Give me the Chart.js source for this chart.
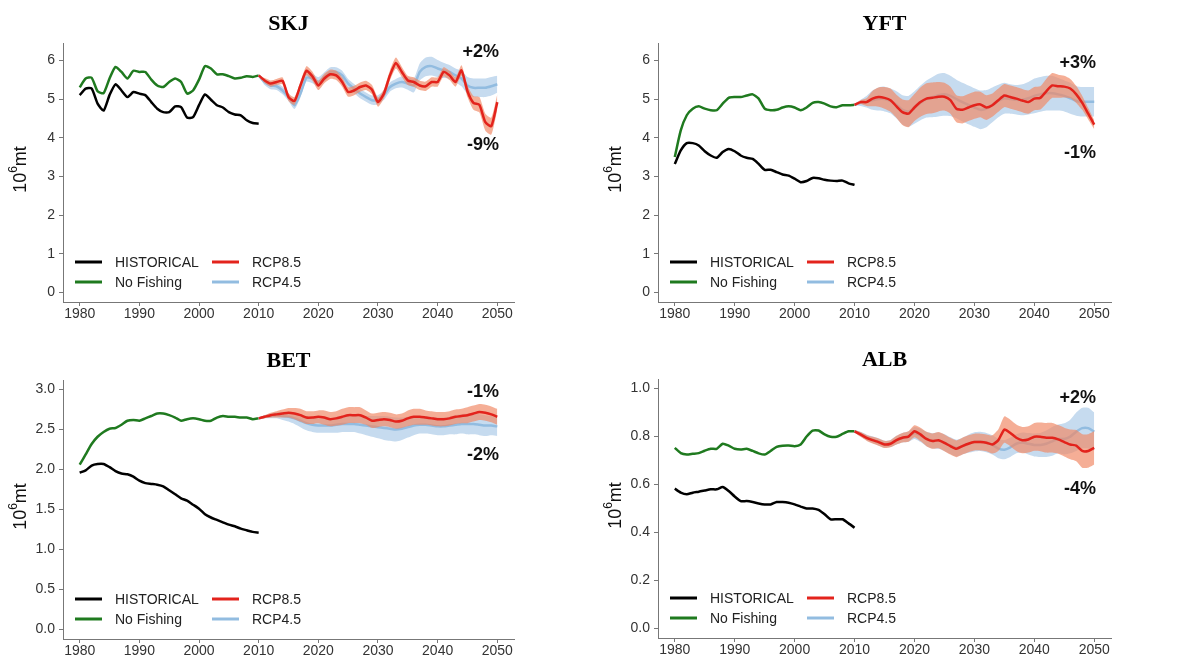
<!DOCTYPE html>
<html lang="en">
<head>
<meta charset="UTF-8">
<title>Tuna biomass: historical, no fishing and RCP projections</title>
<script src="https://cdn.jsdelivr.net/npm/chart.js"></script>
<style>
  body { margin: 0; background: #fff; width: 1178px; height: 656px; overflow: hidden; }
  .painel { position: absolute; }
</style>
</head>
<body>
<canvas class="painel" id="cSKJ" width="589" height="325" style="left:0;top:0"></canvas>
<canvas class="painel" id="cYFT" width="589" height="325" style="left:589px;top:0"></canvas>
<canvas class="painel" id="cBET" width="589" height="331" style="left:0;top:325px"></canvas>
<canvas class="painel" id="cALB" width="589" height="331" style="left:589px;top:325px"></canvas>

<script>
// ---- dados (10^6 mt) ----
// historico e sem pesca: 1980-2010, projecoes: 2010-2050
const anosHist = Array.from({ length: 31 }, (_, i) => 1980 + i);
const anosProj = Array.from({ length: 41 }, (_, i) => 2010 + i);
const xTicks = [1980, 1990, 2000, 2010, 2020, 2030, 2040, 2050];

// SKJ
const skjHist = [5.10,5.27,5.27,4.88,4.70,5.10,5.38,5.22,5.05,5.18, 5.14,5.10,4.92,4.75,4.66,4.66,4.81,4.79,4.52,4.53, 4.84,5.12,4.98,4.84,4.78,4.66,4.60,4.58,4.45,4.38, 4.36];
const skjNoFish = [5.30,5.53,5.55,5.20,5.15,5.53,5.83,5.70,5.53,5.73, 5.70,5.70,5.50,5.35,5.31,5.44,5.53,5.44,5.14,5.22, 5.50,5.85,5.79,5.64,5.64,5.59,5.53,5.55,5.59,5.57, 5.61];
const skjRcp85 = [5.61,5.48,5.40,5.44,5.47,5.05,4.95,5.35,5.73,5.59, 5.35,5.53,5.64,5.61,5.44,5.18,5.22,5.31,5.35,5.24, 4.92,5.14,5.61,5.93,5.70,5.48,5.44,5.35,5.33,5.44, 5.44,5.70,5.61,5.44,5.74,5.20,4.90,4.85,4.40,4.30, 4.92];
const skjRcp45 = [5.61,5.44,5.35,5.33,5.22,5.05,4.84,5.14,5.55,5.53, 5.44,5.57,5.70,5.70,5.61,5.40,5.27,5.14,5.05,4.97, 4.98,5.10,5.31,5.40,5.44,5.40,5.35,5.70,5.83,5.85, 5.79,5.74,5.70,5.61,5.53,5.35,5.29,5.29,5.29,5.33, 5.38];
const skjSpread85 = [0.02,0.06,0.08,0.08,0.09,0.10,0.10,0.10,0.12,0.12, 0.12,0.12,0.12,0.12,0.12,0.12,0.12,0.12,0.12,0.12, 0.12,0.12,0.13,0.14,0.13,0.12,0.12,0.12,0.12,0.12, 0.12,0.12,0.12,0.12,0.13,0.15,0.18,0.20,0.22,0.22, 0.20];
const skjSpread45 = [0.02,0.08,0.10,0.10,0.10,0.10,0.10,0.10,0.10,0.12, 0.12,0.12,0.12,0.12,0.12,0.12,0.12,0.12,0.12,0.12, 0.12,0.12,0.12,0.12,0.14,0.16,0.18,0.22,0.24,0.24, 0.22,0.20,0.18,0.18,0.20,0.22,0.24,0.24,0.24,0.24, 0.22];

// YFT
const yftHist = [3.32,3.67,3.86,3.86,3.80,3.65,3.54,3.48,3.63,3.71, 3.65,3.54,3.48,3.45,3.32,3.17,3.17,3.11,3.05,3.02, 2.94,2.85,2.88,2.96,2.95,2.91,2.89,2.88,2.89,2.82, 2.78];
const yftNoFish = [3.50,4.19,4.58,4.75,4.81,4.75,4.71,4.71,4.88,5.03, 5.05,5.05,5.09,5.12,5.01,4.75,4.71,4.72,4.78,4.81, 4.78,4.71,4.78,4.90,4.92,4.88,4.81,4.79,4.84,4.84, 4.85];
const yftRcp85 = [4.85,4.92,4.92,5.01,5.05,5.03,4.97,4.81,4.66,4.62, 4.78,4.92,5.01,5.03,5.06,5.06,4.97,4.75,4.72,4.78, 4.84,4.86,4.78,4.84,4.97,5.09,5.05,5.01,4.96,4.92, 5.01,5.03,5.20,5.35,5.33,5.32,5.27,5.12,4.90,4.62, 4.34];
const yftRcp45 = [4.85,4.90,4.93,4.97,5.00,5.00,4.95,4.85,4.72,4.68, 4.78,4.90,5.00,5.05,5.10,5.12,5.08,5.00,4.92,4.85, 4.78,4.72,4.75,4.85,4.95,5.02,5.00,4.98,4.98,5.02, 5.08,5.12,5.15,5.15,5.12,5.08,5.02,4.95,4.93,4.93, 4.93];
const yftSpread85 = [0.02,0.05,0.10,0.20,0.25,0.28,0.30,0.30,0.33,0.35, 0.35,0.38,0.40,0.40,0.38,0.36,0.35,0.35,0.35,0.35, 0.35,0.33,0.32,0.30,0.30,0.30,0.30,0.30,0.30,0.30, 0.30,0.30,0.32,0.32,0.30,0.28,0.25,0.22,0.18,0.15, 0.12];
const yftSpread45 = [0.02,0.08,0.15,0.25,0.30,0.32,0.32,0.35,0.38,0.40, 0.42,0.45,0.48,0.52,0.55,0.55,0.52,0.50,0.50,0.50, 0.50,0.50,0.48,0.45,0.42,0.40,0.38,0.38,0.40,0.42, 0.45,0.45,0.45,0.45,0.42,0.40,0.40,0.38,0.38,0.38, 0.38];

// BET
const betHist = [1.96,1.99,2.05,2.07,2.07,2.03,1.98,1.95,1.94,1.91, 1.86,1.83,1.82,1.81,1.79,1.74,1.69,1.64,1.61,1.56, 1.51,1.44,1.40,1.37,1.34,1.31,1.29,1.26,1.24,1.22, 1.21];
const betNoFish = [2.06,2.19,2.32,2.41,2.47,2.51,2.52,2.56,2.61,2.62, 2.61,2.64,2.67,2.70,2.70,2.68,2.65,2.61,2.63,2.64, 2.63,2.61,2.61,2.65,2.67,2.66,2.66,2.65,2.65,2.63, 2.64];
const betRcp85 = [2.64,2.66,2.68,2.69,2.70,2.71,2.70,2.68,2.65,2.65, 2.66,2.65,2.63,2.64,2.66,2.68,2.68,2.68,2.65,2.61, 2.62,2.63,2.62,2.60,2.61,2.64,2.66,2.66,2.65,2.64, 2.63,2.63,2.64,2.66,2.67,2.68,2.70,2.72,2.71,2.69, 2.66];
const betRcp45 = [2.64,2.66,2.67,2.68,2.67,2.66,2.64,2.61,2.58,2.56, 2.55,2.55,2.55,2.56,2.57,2.57,2.57,2.56,2.55,2.54, 2.53,2.52,2.51,2.50,2.51,2.53,2.55,2.56,2.56,2.55, 2.54,2.54,2.55,2.56,2.57,2.57,2.57,2.56,2.55,2.55, 2.54];
const betSpread85 = [0.01,0.02,0.03,0.04,0.05,0.06,0.07,0.08,0.08,0.08, 0.08,0.09,0.09,0.09,0.10,0.10,0.10,0.10,0.09,0.09, 0.09,0.09,0.09,0.09,0.09,0.10,0.10,0.10,0.09,0.09, 0.09,0.09,0.09,0.09,0.09,0.10,0.10,0.10,0.10,0.10, 0.10];
const betSpread45 = [0.01,0.02,0.03,0.04,0.05,0.06,0.07,0.08,0.09,0.09, 0.09,0.09,0.09,0.10,0.10,0.10,0.10,0.11,0.12,0.13, 0.14,0.15,0.15,0.15,0.14,0.13,0.12,0.11,0.11,0.11, 0.11,0.11,0.11,0.12,0.12,0.13,0.13,0.13,0.13,0.12, 0.12];

// ALB
const albHist = [0.583,0.566,0.559,0.566,0.570,0.575,0.580,0.580,0.590,0.573, 0.550,0.531,0.531,0.527,0.521,0.517,0.517,0.527,0.527,0.524, 0.517,0.508,0.500,0.500,0.494,0.476,0.455,0.455,0.455,0.438, 0.420];
const albNoFish = [0.753,0.731,0.725,0.728,0.731,0.741,0.749,0.749,0.770,0.762, 0.749,0.746,0.749,0.740,0.730,0.725,0.740,0.757,0.762,0.763, 0.760,0.767,0.800,0.825,0.825,0.809,0.799,0.799,0.811,0.822, 0.822];
const albRcp85 = [0.822,0.809,0.795,0.785,0.777,0.767,0.770,0.785,0.795,0.800, 0.822,0.809,0.790,0.781,0.785,0.774,0.760,0.749,0.760,0.770, 0.777,0.777,0.774,0.767,0.785,0.829,0.815,0.795,0.785,0.788, 0.799,0.799,0.795,0.795,0.788,0.777,0.767,0.762,0.740,0.740, 0.753];
const albRcp45 = [0.822,0.810,0.797,0.787,0.778,0.768,0.771,0.785,0.795,0.800, 0.815,0.805,0.790,0.782,0.783,0.775,0.762,0.752,0.760,0.770, 0.778,0.780,0.775,0.765,0.750,0.745,0.755,0.770,0.775,0.770, 0.765,0.765,0.770,0.780,0.790,0.790,0.800,0.820,0.835,0.835, 0.820];
const albSpread85 = [0.005,0.010,0.012,0.014,0.015,0.015,0.015,0.018,0.020,0.022, 0.025,0.028,0.030,0.032,0.034,0.035,0.035,0.035,0.035,0.035, 0.035,0.035,0.035,0.038,0.045,0.055,0.055,0.055,0.055,0.055, 0.058,0.060,0.062,0.062,0.060,0.060,0.062,0.065,0.070,0.070, 0.070];
const albSpread45 = [0.005,0.010,0.012,0.014,0.015,0.015,0.015,0.018,0.020,0.022, 0.025,0.028,0.030,0.032,0.034,0.035,0.035,0.035,0.035,0.038, 0.040,0.040,0.040,0.040,0.040,0.040,0.040,0.040,0.042,0.045, 0.048,0.050,0.055,0.060,0.060,0.065,0.070,0.080,0.085,0.085, 0.080];

// ---- paineis ----
const paineis = [
  { id: 'cSKJ', nome: 'SKJ', hist: skjHist, noFish: skjNoFish, r85: skjRcp85, r45: skjRcp45, s85: skjSpread85, s45: skjSpread45,
    yMin: -0.248, yMax: 6.448, yTicks: [0,1,2,3,4,5,6], dec: 0,
    area: { l: 63, r: 514, t: 43, b: 302 }, notas: [['+2%', 9], ['-9%', 102]] },
  { id: 'cYFT', nome: 'YFT', hist: yftHist, noFish: yftNoFish, r85: yftRcp85, r45: yftRcp45, s85: yftSpread85, s45: yftSpread45,
    yMin: -0.248, yMax: 6.448, yTicks: [0,1,2,3,4,5,6], dec: 0,
    area: { l: 69, r: 522, t: 43, b: 302 }, notas: [['+3%', 20], ['-1%', 110]] },
  { id: 'cBET', nome: 'BET', hist: betHist, noFish: betNoFish, r85: betRcp85, r45: betRcp45, s85: betSpread85, s45: betSpread45,
    yMin: -0.12, yMax: 3.12, yTicks: [0,0.5,1,1.5,2,2.5,3], dec: 1,
    area: { l: 63, r: 514, t: 55, b: 314 }, notas: [['-1%', 12], ['-2%', 75]] },
  { id: 'cALB', nome: 'ALB', hist: albHist, noFish: albNoFish, r85: albRcp85, r45: albRcp45, s85: albSpread85, s45: albSpread45,
    yMin: -0.04, yMax: 1.04, yTicks: [0,0.2,0.4,0.6,0.8,1], dec: 1,
    area: { l: 69, r: 522, t: 54, b: 313 }, notas: [['+2%', 19], ['-4%', 110]] }
];

const cores = {
  hist: '#000000', noFish: '#1f7a1f',
  r85: '#e3231c', r85Banda: 'rgba(240,135,100,0.68)',
  r45: '#92bce0', r45Banda: '#c6dbef'
};
const fonte = '"Liberation Sans", Arial, Helvetica, sans-serif';

function pontos(anos, valores) {
  return anos.map((a, i) => ({ x: a, y: valores[i] }));
}

function linha(label, dados, cor, ordem) {
  return { label: label, data: dados, borderColor: cor, borderWidth: 2.5, pointRadius: 0,
           tension: 0.2, fill: false, order: ordem };
}

// desenha titulo, rotulo do eixo y, legenda e as porcentagens
const decoracao = {
  id: 'decoracao',
  afterDraw(chart) {
    const p = chart.options.painel;
    const ctx = chart.ctx, a = chart.chartArea;
    ctx.save();
    ctx.fillStyle = '#000';
    ctx.textBaseline = 'middle';

    ctx.textAlign = 'center';
    ctx.font = 'bold 22px "Liberation Serif", "Times New Roman", serif';
    ctx.fillText(p.nome, (a.left + a.right) / 2, a.top - 19);

    // 10^6 mt
    ctx.save();
    ctx.translate(a.left - 42, (a.top + a.bottom) / 2 - 3);
    ctx.rotate(-Math.PI / 2);
    ctx.fillStyle = '#111';
    ctx.font = '18px ' + fonte;
    const w10 = ctx.measureText('10').width, wmt = ctx.measureText('mt').width;
    ctx.font = '12px ' + fonte;
    const w6 = ctx.measureText('6').width;
    let x0 = -(w10 + w6 + wmt) / 2;
    ctx.textAlign = 'left';
    ctx.font = '18px ' + fonte;
    ctx.fillText('10', x0, 0);
    ctx.font = '12px ' + fonte;
    ctx.fillText('6', x0 + w10, -7);
    ctx.font = '18px ' + fonte;
    ctx.fillText('mt', x0 + w10 + w6, 0);
    ctx.restore();

    // legenda
    const itens = [
      ['HISTORICAL', cores.hist, 0, 0], ['No Fishing', cores.noFish, 0, 1],
      ['RCP8.5', cores.r85, 1, 0], ['RCP4.5', cores.r45, 1, 1]
    ];
    ctx.font = '14px ' + fonte;
    ctx.textAlign = 'left';
    itens.forEach(([txt, cor, col, lin]) => {
      const x = a.left + (col ? 149 : 12);
      const y = a.bottom - 40 + lin * 20;
      ctx.strokeStyle = cor;
      ctx.lineWidth = 3;
      ctx.beginPath();
      ctx.moveTo(x, y);
      ctx.lineTo(x + 27, y);
      ctx.stroke();
      ctx.fillStyle = '#222';
      ctx.fillText(txt, x + 40, y + 1);
    });

    // porcentagens
    ctx.font = 'bold 18px ' + fonte;
    ctx.textAlign = 'right';
    ctx.fillStyle = '#111';
    p.notas.forEach(([txt, dy]) => ctx.fillText(txt, a.right - 15, a.top + dy));
    ctx.restore();
  }
};

paineis.forEach(p => {
  const canvas = document.getElementById(p.id);
  const W = canvas.width, H = canvas.height;
  const sobe = (v, s) => v.map((x, i) => x + s[i]);
  const desce = (v, s) => v.map((x, i) => x - s[i]);

  const datasets = [
    linha('RCP8.5', pontos(anosProj, p.r85), cores.r85, 0),
    { label: 'RCP8.5 max', data: pontos(anosProj, sobe(p.r85, p.s85)), borderWidth: 0, borderColor: 'rgba(0,0,0,0)',
      pointRadius: 0, tension: 0.2, fill: 2, backgroundColor: cores.r85Banda, order: 1 },
    { label: 'RCP8.5 min', data: pontos(anosProj, desce(p.r85, p.s85)), borderWidth: 0, borderColor: 'rgba(0,0,0,0)',
      pointRadius: 0, tension: 0.2, fill: false, order: 2 },
    linha('RCP4.5', pontos(anosProj, p.r45), cores.r45, 3),
    { label: 'RCP4.5 max', data: pontos(anosProj, sobe(p.r45, p.s45)), borderWidth: 0, borderColor: 'rgba(0,0,0,0)',
      pointRadius: 0, tension: 0.2, fill: 5, backgroundColor: cores.r45Banda, order: 4 },
    { label: 'RCP4.5 min', data: pontos(anosProj, desce(p.r45, p.s45)), borderWidth: 0, borderColor: 'rgba(0,0,0,0)',
      pointRadius: 0, tension: 0.2, fill: false, order: 5 },
    linha('No Fishing', pontos(anosHist, p.noFish), cores.noFish, 6),
    linha('HISTORICAL', pontos(anosHist, p.hist), cores.hist, 7)
  ];

  const eixo = {
    grid: { drawOnChartArea: false, drawTicks: true, tickLength: 4, color: '#777', lineWidth: 1 },
    border: { display: true, color: '#777', width: 1 }
  };

  new Chart(canvas, {
    type: 'line',
    data: { datasets: datasets },
    options: {
      painel: p,
      responsive: false,
      animation: false,
      layout: { padding: { left: 0, top: p.area.t, right: W - p.area.r, bottom: 0 } },
      plugins: { legend: { display: false }, tooltip: { enabled: false } },
      scales: {
        x: Object.assign({}, eixo, {
          type: 'linear', min: 1977.2, max: 2052.8,
          afterBuildTicks: s => { s.ticks = xTicks.map(v => ({ value: v })); },
          afterFit: s => { s.height = H - p.area.b; },
          ticks: { font: { family: fonte, size: 14 }, color: '#333', padding: 0, maxRotation: 0,
                   callback: v => String(v) }
        }),
        y: Object.assign({}, eixo, {
          min: p.yMin, max: p.yMax,
          afterBuildTicks: s => { s.ticks = p.yTicks.map(v => ({ value: v })); },
          afterFit: s => { s.width = p.area.l; },
          ticks: { font: { family: fonte, size: 14 }, color: '#333', padding: 4,
                   callback: v => Number(v).toFixed(p.dec) }
        })
      }
    },
    plugins: [decoracao]
  });
});
</script>
</body>
</html>
